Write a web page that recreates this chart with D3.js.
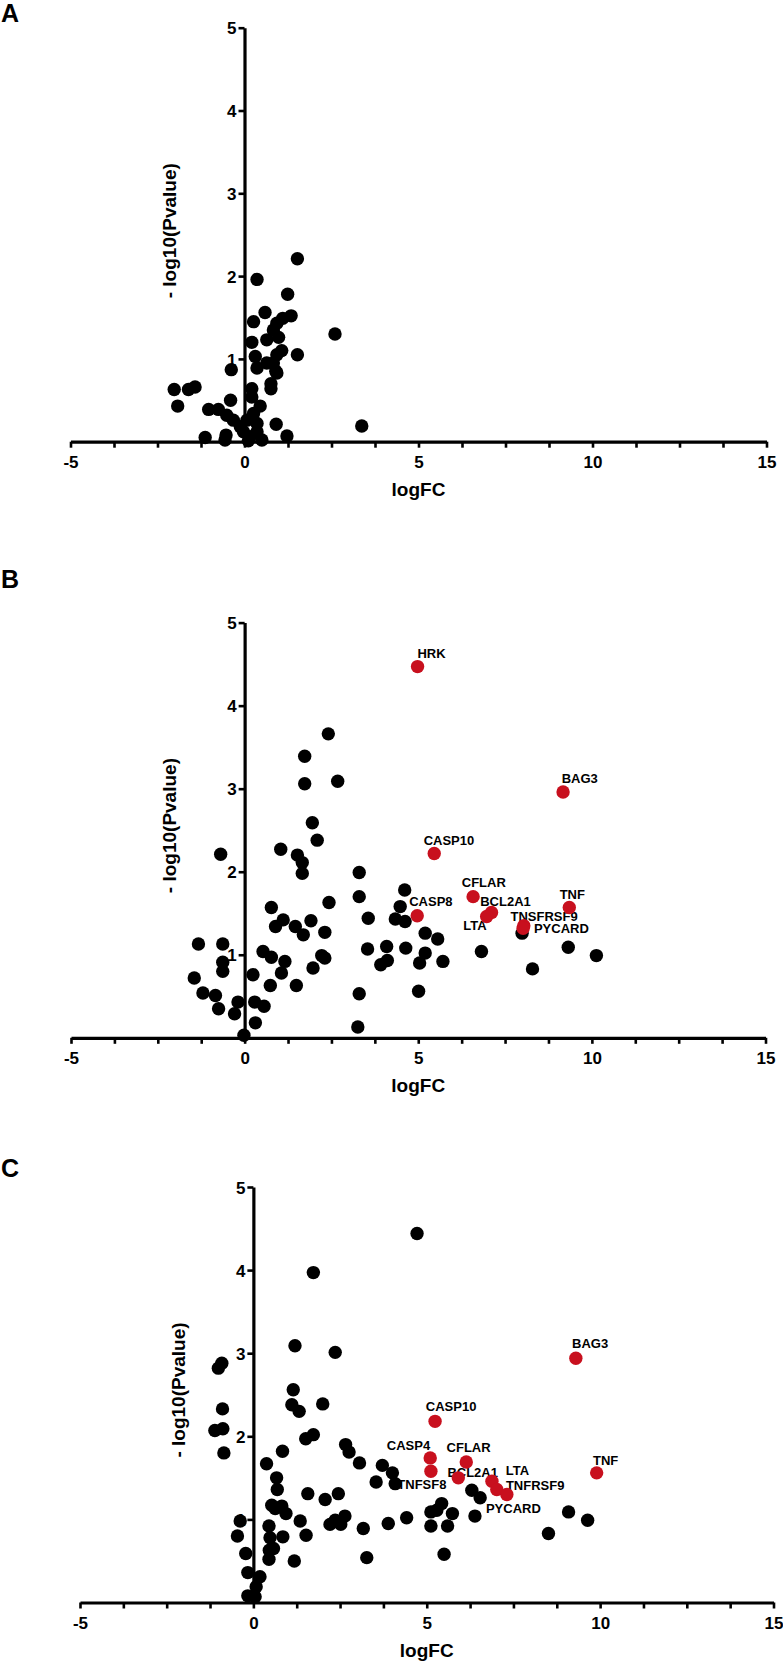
<!DOCTYPE html>
<html><head><meta charset="utf-8">
<script src="https://cdn.jsdelivr.net/npm/d3@7"></script>
<style>html,body{margin:0;padding:0;background:#fff;} svg{display:block;}</style>
</head><body>
<script>
// ---------- DATA ----------
const xTickLabels = [-5, 0, 5, 10, 15];
const yTickLabels = [1, 2, 3, 4, 5];
const xLabel = "logFC";
const yLabel = "- log10(Pvalue)";

// Panel A (all black)
const aLogFC = [1.52,0.36,1.24,0.59,0.26,1.34,1.10,0.93,0.83,2.60,0.98,0.64,0.21,1.52,1.07,0.93,0.31,0.64,0.36,0.83,-0.38,0.93,0.76,0.76,0.21,-2.02,-1.61,-1.42,-1.92,-1.03,-0.40,-0.75,-0.51,0.21,0.45,0.26,-0.32,-0.12,0.07,0.36,0.91,3.37,-1.13,-0.53,-0.56,0.16,0.50,1.22,0.11,-0.03,0.36,0.90];
const aNegLogP = [2.21,1.96,1.78,1.56,1.45,1.52,1.49,1.43,1.35,1.30,1.26,1.23,1.20,1.05,1.10,1.05,1.03,0.95,0.89,0.95,0.87,0.83,0.70,0.64,0.64,0.63,0.63,0.66,0.43,0.39,0.50,0.39,0.32,0.54,0.43,0.34,0.26,0.18,0.26,0.22,0.21,0.19,0.05,0.08,0.02,0.06,0.02,0.07,0.01,0.12,0.12,0.85];

// Panel B black
const bLogFC = [2.41,1.73,1.73,2.68,1.95,2.09,1.04,-0.69,1.52,1.66,1.66,3.30,3.30,4.61,4.48,2.43,0.77,3.56,4.34,4.62,0.89,1.11,1.46,1.91,1.69,2.31,5.20,5.56,-1.33,-0.63,3.54,4.09,4.64,0.53,0.77,1.16,2.22,2.31,3.92,4.11,5.04,5.20,5.71,-0.63,-0.63,-1.45,0.24,1.06,1.97,0.74,1.49,-1.20,-0.84,-0.75,-0.19,-0.29,0.29,0.56,0.31,3.30,5.01,3.26,-0.02,6.82,7.99,9.32,10.13,8.29];
const bNegLogP = [3.66,3.39,3.06,3.09,2.59,2.38,2.27,2.21,2.20,2.11,1.98,1.99,1.70,1.78,1.58,1.63,1.57,1.44,1.43,1.40,1.34,1.42,1.34,1.41,1.24,1.27,1.26,1.19,1.13,1.13,1.07,1.10,1.08,1.04,0.97,0.92,0.99,0.96,0.88,0.93,0.90,1.02,0.92,0.91,0.80,0.72,0.76,0.78,0.84,0.63,0.63,0.54,0.51,0.35,0.43,0.29,0.43,0.38,0.18,0.53,0.56,0.13,0.03,1.04,1.26,1.09,0.99,0.83];
// Panel B highlighted genes
const bGenes = ["HRK","BAG3","CASP10","CFLAR","CASP8","BCL2A1","LTA","TNF","TNSFRSF9","PYCARD"];
const bGeneLogFC = [4.98,9.17,5.46,6.58,4.97,7.11,6.97,9.35,8.04,8.02];
const bGeneNegLogP = [4.47,2.96,2.22,1.70,1.47,1.51,1.46,1.57,1.35,1.32];

// Panel C black
const cLogFC = [4.72,1.73,1.20,2.36,-1.01,-0.91,1.15,1.11,1.32,2.00,-0.89,-1.11,-0.88,-0.85,1.51,1.73,2.66,2.76,0.84,3.06,3.72,4.01,4.09,3.54,0.38,0.67,0.69,1.57,2.45,2.07,6.30,6.54,0.53,0.63,0.82,0.94,5.43,5.12,5.29,5.74,6.39,-0.38,0.45,1.35,2.21,2.36,2.52,2.64,3.17,3.89,4.42,5.12,5.60,-0.46,0.48,0.85,1.52,-0.22,0.46,0.58,0.45,1.18,3.27,5.50,-0.16,0.19,0.08,-0.16,0.05,8.51,9.09,9.64];
const cNegLogP = [4.44,3.97,3.09,3.01,2.82,2.88,2.56,2.38,2.30,2.39,2.33,2.07,2.09,1.80,1.97,2.02,1.90,1.81,1.82,1.68,1.65,1.56,1.43,1.45,1.67,1.50,1.36,1.31,1.31,1.24,1.35,1.26,1.17,1.13,1.16,1.07,1.19,1.09,1.11,1.07,1.04,0.98,0.92,0.98,0.94,0.99,0.94,1.04,0.89,0.95,1.02,0.92,0.92,0.80,0.78,0.79,0.81,0.59,0.63,0.65,0.52,0.50,0.54,0.58,0.36,0.31,0.19,0.08,0.07,0.83,1.09,0.99];
// Panel C highlighted genes
const cGenes = ["CASP10","CASP4","TNFSF8","CFLAR","BCL2A1","LTA","PYCARD","TNFRSF9","BAG3","TNF"];
const cGeneLogFC = [5.24,5.10,5.12,6.14,5.91,6.88,7.02,7.31,9.30,9.90];
const cGeneNegLogP = [2.18,1.74,1.58,1.69,1.50,1.46,1.36,1.30,2.94,1.56];

// ---------- LAYOUT (pixels) ----------
const W = 783, H = 1664;
const panels = [
  {letter:"A", letterBase:22, xr:[70.5,766.5], yr:[441.7,27.7],
   x:aLogFC, y:aNegLogP, genes:[], gx:[], gy:[], lab:[]},
  {letter:"B", letterBase:588, xr:[71,765.5], yr:[1037.8,622.6],
   x:bLogFC, y:bNegLogP, genes:bGenes, gx:bGeneLogFC, gy:bGeneNegLogP,
   lab:[[14,-13.7],[16.7,-14],[14.7,-13.3],[10.7,-14.7],[13.7,-14.7],[14,-11.3],[-11.7,9.3],[3,-13.4],[20.3,-9.3],[38.3,0.6]]},
  {letter:"C", letterBase:1177, xr:[80,773.5], yr:[1602.5,1187],
   x:cLogFC, y:cNegLogP, genes:cGenes, gx:cGeneLogFC, gy:cGeneNegLogP,
   lab:[[16,-15],[-21.7,-12.3],[-9,13.3],[2.3,-14.4],[14.4,-5.6],[25.6,-10.7],[16.6,18.6],[28.3,-9.5],[14.3,-14.4],[9,-12.7]]}
];
const RED = "#c8101e";
const R = 6.7;
const FONT = "'Liberation Sans', Arial, Helvetica, sans-serif";

const svg = d3.select("body").append("svg").attr("width", W).attr("height", H)
  .style("font-family", FONT);
svg.append("rect").attr("width", W).attr("height", H).attr("fill", "#fff");

panels.forEach(p => {
  const g = svg.append("g");
  const x = d3.scaleLinear().domain([-5, 15]).range(p.xr);
  const y = d3.scaleLinear().domain([0, 5]).range(p.yr);
  const x0 = x(0), y0 = y(0);

  // panel letter
  g.append("text").attr("x", 1).attr("y", p.letterBase)
    .attr("font-size", 25).attr("font-weight", "bold").text(p.letter);

  // x axis (crosses at y=0)
  const minorTicks = d3.range(-5, 15.001, 1.25);
  const xAxis = d3.axisBottom(x).tickValues(minorTicks).tickSize(6).tickSizeOuter(0)
    .tickFormat(d => xTickLabels.includes(d) ? d : "");
  const gx = g.append("g").attr("transform", `translate(0,${y0})`).call(xAxis);
  gx.select(".domain").attr("stroke", "#000").attr("stroke-width", 3.2);
  gx.selectAll(".tick line").attr("stroke", "#000").attr("stroke-width", 2.6);
  gx.selectAll(".tick text").attr("fill", "#000").attr("font-size", 17)
    .attr("font-weight", "bold").attr("font-family", FONT).attr("y", 0).attr("dy", 0)
    .attr("transform", "translate(0,26)");

  // y axis (crosses at x=0)
  const yAxis = d3.axisLeft(y).tickValues(yTickLabels).tickSize(6).tickSizeOuter(0).tickFormat(d3.format("d"));
  const gy = g.append("g").attr("transform", `translate(${x0},0)`).call(yAxis);
  gy.select(".domain").attr("stroke", "#000").attr("stroke-width", 3.2);
  gy.selectAll(".tick line").attr("stroke", "#000").attr("stroke-width", 2.6);
  gy.selectAll(".tick text").attr("fill", "#000").attr("font-size", 17)
    .attr("font-weight", "bold").attr("font-family", FONT).attr("x", -8).attr("dy", "0.36em");

  // axis titles
  g.append("text").attr("x", x(5)).attr("y", y0 + 49 + 5)
    .attr("text-anchor", "middle").attr("font-size", 19).attr("font-weight", "bold").text(xLabel);
  g.append("text").attr("transform", `translate(${x0 - 73 + 4.8},${y(5) + 203}) rotate(-90)`)
    .attr("text-anchor", "middle").attr("font-size", 19).attr("font-weight", "bold").text(yLabel);

  // gene labels (drawn beneath dots)
  const hits = p.genes.map((n, i) => ({name:n, fc:p.gx[i], lp:p.gy[i], off:p.lab[i]}));
  g.append("g").selectAll("text").data(hits).join("text")
    .attr("x", d => x(d.fc) + d.off[0]).attr("y", d => y(d.lp) + d.off[1] + 4.6)
    .attr("text-anchor", "middle").attr("font-size", 13).attr("font-weight", "bold")
    .text(d => d.name);

  // black points
  const pts = p.x.map((v, i) => ({fc:v, lp:p.y[i]}));
  g.append("g").selectAll("circle").data(pts).join("circle")
    .attr("cx", d => x(d.fc)).attr("cy", d => y(d.lp)).attr("r", R).attr("fill", "#000");
  // red points
  g.append("g").selectAll("circle").data(hits).join("circle")
    .attr("cx", d => x(d.fc)).attr("cy", d => y(d.lp)).attr("r", R).attr("fill", RED);
});
</script>
</body></html>
